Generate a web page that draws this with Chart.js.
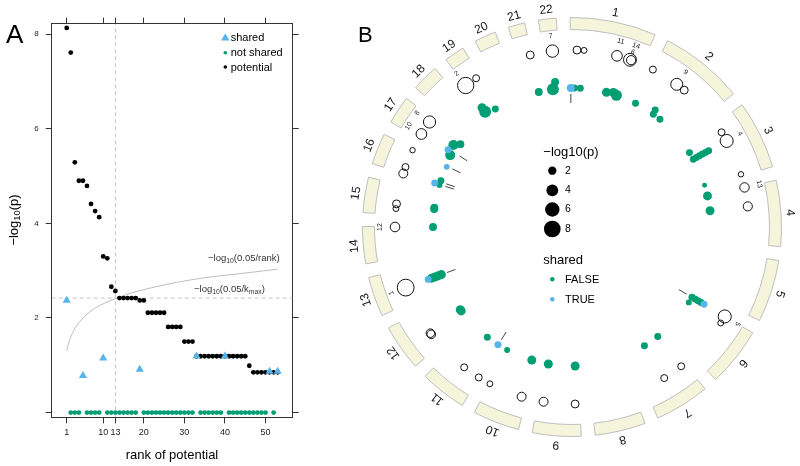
<!DOCTYPE html>
<html><head><meta charset="utf-8">
<script src="https://cdn.jsdelivr.net/npm/chart.js@4.4.1/dist/chart.umd.min.js"></script>
<style>
html,body{margin:0;padding:0;background:#fff;width:800px;height:466px;overflow:hidden;}
#wrap{position:relative;width:800px;height:466px;}
canvas{position:absolute;}
#cA{left:0;top:0;width:320px;height:466px;}
#cRing,#cB{left:337px;top:0;width:470px;height:466px;}
</style></head><body>
<div id="wrap">
<canvas id="cA" width="320" height="466"></canvas>
<canvas id="cRing" width="470" height="466"></canvas>
<canvas id="cB" width="470" height="466"></canvas>
</div>
<script>
// ---------------- Panel A data ----------------
const RANKS = [1,2,3,4,5,6,7,8,9,10,11,12,13,14,15,16,17,18,19,20,21,22,23,24,25,26,27,28,29,30,31,32,33,34,35,36,37,38,39,40,41,42,43,44,45,46,47,48,49,50,51,52,53];
const POTENTIAL_LOGP = [8.13,7.61,5.29,4.90,4.90,4.79,4.41,4.26,4.13,3.30,3.26,2.66,2.57,
  2.42,2.42,2.42,2.42,2.42,2.37,2.37,2.11,2.11,2.11,2.11,2.11,1.81,1.81,1.81,1.81,1.50,1.50,1.50,
  1.19,1.19,1.19,1.19,1.19,1.19,1.19,1.19,1.19,1.19,1.19,1.19,1.19,0.99,0.85,0.85,0.85,0.85,0.85,0.85,0.85];
const SHARED_RANKS = [1,5,10,19,33,40,51,53];
const SHARED_LOGP = [2.37,0.78,1.15,0.91,1.19,1.19,0.87,0.87];
const NOT_SHARED_RANKS = [2,3,4,6,7,8,9,11,12,13,14,15,16,17,18,20,21,22,23,24,25,26,27,28,29,30,31,32,34,35,36,37,38,39,41,42,43,44,45,46,47,48,49,50,52];
const NOT_SHARED_LOGP = [0,0,0,0,0,0,0,0,0,0,0,0,0,0,0,0,0,0,0,0,0,0,0,0,0,0,0,0,0,0,0,0,0,0,0,0,0,0,0,0,0,0,0,0,0];
const CURVE_RANK = [1,1.5,2,3,4,5,7,10,13,17,22,28,35,43,53];
const CURVE_LOGP = [1.30,1.48,1.60,1.78,1.90,2.00,2.15,2.30,2.41,2.53,2.64,2.75,2.85,2.93,3.03];
const K_MAX = 13;
const KMAX_LOGP = 2.42;
const X_TICKS = [1,10,13,20,30,40,50];
const Y_TICKS = [0,2,4,6,8];
const X_MIN = -2.7, X_MAX = 56.7, Y_MIN = -0.1, Y_MAX = 8.22;

// ---------------- Panel B data ----------------
const CHR_LABELS = ['1','2','3','4','5','6','7','8','9','10','11','12','13','14','15','16','17','18','19','20','21','22'];
const CHR_LEN = [249.3,243.2,198.0,191.2,180.9,171.1,159.1,146.4,141.2,135.5,135.0,133.9,115.2,107.3,102.5,90.4,81.2,78.1,59.1,63.0,48.1,51.3];
const GAP_MB = 40;
const RING_ROTATION = -0.5;
// potential loci (open circles)
const POT_CHR  = [21,22,1,1,1,1,1,2,2,2,3,3,3,4,4,6,6,7,7,9,9,10,10,11,11,12,12,13,14,15,15,16,16,16,17,17,19,19];
const POT_POS  = [42,30,22,46,159,205,209,0,95,127,35,69,192,0,65,0,26,14,84,16,123,18,134,2,62,45,50,52,106,21,37,0,23,85,17,66,1,44];
const POT_LOGP = [1.8,4.41,1.8,1.0,3.26,4.79,2.42,1.4,4.13,1.8,1.4,4.90,0.85,2.57,2.4,4.90,1.0,1.4,1.4,1.8,2.3,2.3,1.0,1.4,1.4,2.1,2.1,8.13,2.66,1.0,1.8,2.3,1.4,0.85,3.30,4.26,7.61,1.4];
const POT_LABEL= [null,7,null,null,11,6,14,null,9,null,null,4,null,13,null,5,null,null,null,null,null,null,null,null,null,null,null,1,12,null,null,null,null,null,10,8,2,null];
// association hits (filled points)
const HIT_CHR    = [21,22,22,1,1,1,1,1,1,2,2,2,2,3,3,3,3,3,3,3,3,4,4,6,6,6,6,6,6,7,7,9,9,10,10,11,11,12,12,13,13,13,13,13,14,15,15,16,16,16,16,17,17,17,17,19,19,19];
const HIT_POS    = [40,14,27,15,41,0,155,184,200,0,90,86,126,35,68,68,68,68,68,68,190,0,65,0,0,0,0,0,26,14,84,13,129,21,136,6,62,47,54,52,52,52,52,52,106,36,42,0,2,19,84,5,19,48,68,0,0,42];
const HIT_LOGP   = [1.8,4.1,1.8,1.4,1.4,1.8,2.3,2.3,3.5,1.4,1.4,1.4,1.4,1.4,1.4,1.4,1.4,1.4,1.4,1.4,0.7,2.3,2.3,1.4,1.4,1.4,1.4,1.4,1.0,1.4,1.4,2.3,2.3,2.3,1.0,1.4,1.4,2.3,2.3,2.3,2.3,2.3,2.3,1.4,1.8,1.8,1.8,1.0,1.4,1.4,1.0,2.9,1.4,2.9,1.8,4.1,2.3,1.4];
const HIT_LIFT   = [0,0,2,0,0,0,0,0.5,0,0,0,1.3,0,0,0,1,2,3,4,5,0,0,0,0,1,2,3,4,0,0,0,0,0,0,0,0,0,0,0,0,1,2,3,4,0,0,0,0,1.5,0,0,0.7,2,1.5,0,1.5,3,0.5];
const HIT_SHARED = [0,0,0,0,0,1,0,0,0,0,0,0,0,0,0,0,0,0,0,0,0,0,0,0,0,0,0,1,0,0,0,0,0,0,0,1,0,0,0,0,0,0,0,1,0,0,0,0,1,0,1,0,1,0,0,0,0,0];
// tick marks
const TICK_CHR = [1,6,11,13,16,16,16,17];
const TICK_POS = [0,0,5,52,2,14,87,23];

// ---------------- styles ----------------
const FONT = "'Liberation Sans', Arial, Helvetica, sans-serif";
Chart.defaults.font.family = FONT;
const GREEN = '#009E73', BLUE = '#56B4E9';

function drawRich(ctx, parts, x, y, size, align, color) {
  ctx.fillStyle = color || '#000';
  ctx.textBaseline = 'middle';
  ctx.textAlign = 'left';
  const ws = parts.map(([t, s]) => { ctx.font = (s ? size * 0.72 : size) + 'px ' + FONT; return ctx.measureText(t).width; });
  const tot = ws.reduce((a, b) => a + b, 0);
  let cx = align === 'center' ? x - tot / 2 : (align === 'right' ? x - tot : x);
  parts.forEach(([t, s], i) => {
    ctx.font = (s ? size * 0.72 : size) + 'px ' + FONT;
    ctx.fillText(t, cx, y + (s ? size * 0.3 : 0));
    cx += ws[i];
  });
}

// ---------------- Panel A chart ----------------
const panelAText = {
  id: 'panelAText',
  afterDraw(chart) {
    const ctx = chart.ctx;
    ctx.save();
    ctx.fillStyle = '#000';
    ctx.font = '26px ' + FONT;
    ctx.textBaseline = 'alphabetic';
    ctx.textAlign = 'left';
    ctx.fillText('A', 6, 43);
    ctx.save();
    ctx.translate(14, 220);
    ctx.rotate(-Math.PI / 2);
    drawRich(ctx, [['\u2212log', 0], ['10', 1], ['(p)', 0]], 0, 0, 13, 'center', '#000');
    ctx.restore();
    ctx.font = '13px ' + FONT;
    ctx.textAlign = 'center';
    ctx.textBaseline = 'middle';
    ctx.fillStyle = '#000';
    ctx.fillText('rank of potential', 172, 455);
    drawRich(ctx, [['\u2212log', 0], ['10', 1], ['(0.05/rank)', 0]], 208, 258, 9.5, 'left', '#333');
    drawRich(ctx, [['\u2212log', 0], ['10', 1], ['(0.05/k', 0], ['max', 1], [')', 0]], 194, 289, 9.5, 'left', '#333');
    const lx = 225.3;
    ctx.fillStyle = BLUE;
    ctx.beginPath();
    ctx.moveTo(lx, 33.5); ctx.lineTo(lx + 4.2, 40.5); ctx.lineTo(lx - 4.2, 40.5); ctx.closePath(); ctx.fill();
    ctx.fillStyle = GREEN;
    ctx.beginPath(); ctx.arc(lx, 52.7, 1.8, 0, Math.PI * 2); ctx.fill();
    ctx.fillStyle = '#000';
    ctx.beginPath(); ctx.arc(lx, 67, 1.8, 0, Math.PI * 2); ctx.fill();
    ctx.font = '11px ' + FONT;
    ctx.textAlign = 'left';
    ctx.textBaseline = 'middle';
    ctx.fillText('shared', 230.7, 38);
    ctx.fillText('not shared', 230.7, 53);
    ctx.fillText('potential', 230.7, 67.5);
    ctx.restore();
  }
};

const axisCommon = (pos, isX, labelled, size) => ({
  type: 'linear',
  position: pos,
  axis: isX ? 'x' : 'y',
  min: isX ? X_MIN : Y_MIN,
  max: isX ? X_MAX : Y_MAX,
  afterBuildTicks: s => { s.ticks = (isX ? X_TICKS : Y_TICKS).map(v => ({ value: v })); },
  ticks: {
    autoSkip: false, maxRotation: 0, minRotation: 0,
    color: '#222',
    font: { size: isX ? 9 : 8 },
    padding: isX ? 4 : 7,
    callback: v => (labelled ? (v === 0 && !isX ? '' : String(v)) : '')
  },
  grid: { drawOnChartArea: false, drawTicks: true, tickLength: 6, color: '#333', tickColor: '#333' },
  border: { display: true, color: '#333', width: 1 },
  afterFit: s => { if (isX) s.height = size; else s.width = size; }
});

new Chart(document.getElementById('cA'), {
  type: 'scatter',
  data: {
    datasets: [
      { label: 'shared', order: 0, data: SHARED_RANKS.map((r, i) => ({ x: r, y: SHARED_LOGP[i] })),
        pointStyle: 'triangle', pointRadius: 4.7, backgroundColor: BLUE, borderColor: BLUE, borderWidth: 0 },
      { label: 'potential', order: 1, data: RANKS.map((r, i) => ({ x: r, y: POTENTIAL_LOGP[i] })),
        pointRadius: 2.4, backgroundColor: '#000', borderWidth: 0 },
      { label: 'not shared', order: 2, data: NOT_SHARED_RANKS.map((r, i) => ({ x: r, y: NOT_SHARED_LOGP[i] })),
        pointRadius: 2.4, backgroundColor: GREEN, borderWidth: 0 },
      { label: 'threshold curve', type: 'line', order: 3, data: CURVE_RANK.map((r, i) => ({ x: r, y: CURVE_LOGP[i] })),
        borderColor: '#bdbdbd', borderWidth: 1, pointRadius: 0, cubicInterpolationMode: 'monotone', fill: false },
      { label: 'kmax', type: 'line', order: 4, data: [{ x: X_MIN, y: KMAX_LOGP }, { x: X_MAX, y: KMAX_LOGP }],
        borderColor: '#c4c4c4', borderDash: [4, 3], borderWidth: 1, pointRadius: 0, fill: false },
      { label: 'kvert', type: 'line', order: 5, data: [{ x: K_MAX, y: Y_MIN }, { x: K_MAX, y: Y_MAX }],
        borderColor: '#c4c4c4', borderDash: [4, 3], borderWidth: 1, pointRadius: 0, fill: false }
    ]
  },
  options: {
    responsive: false, animation: false, events: [],
    layout: { padding: 0 },
    plugins: { legend: { display: false }, tooltip: { enabled: false } },
    scales: {
      x: axisCommon('bottom', true, true, 48.7),
      x2: axisCommon('top', true, false, 23.7),
      y: axisCommon('left', false, true, 51.7),
      y2: axisCommon('right', false, false, 27.3)
    }
  },
  plugins: [panelAText]
});

// ---------------- Panel B ----------------
const R_POT = 177, R_HIT = 139, LIFT_STEP = 3.5, R_TICK0 = 124, R_TICK1 = 133;
const R_RANK_LABEL = 192, R_CHR_LABEL = 218.5, SIZE_K = 2.95, HALF = 210;
const LABEL_NUDGE = { 6: -7 };
const totalMb = CHR_LEN.reduce((a, b) => a + b, 0) + GAP_MB * CHR_LEN.length;
const DEG_PER_MB = 360 / totalMb;
const CHR_START = [];
{ let a = RING_ROTATION; CHR_LEN.forEach(L => { CHR_START.push(a); a += (L + GAP_MB) * DEG_PER_MB; }); }
function polar(chr, pos, r) {
  const t = (CHR_START[chr - 1] + pos * DEG_PER_MB) * Math.PI / 180;
  return { x: r * Math.sin(t), y: r * Math.cos(t), t };
}
const sizeOf = v => SIZE_K * Math.sqrt(v);
const PAD_B = { left: 25, right: 25, top: 17, bottom: 29 };

const ringData = [], ringBg = [], ringBorder = [], ringBw = [];
CHR_LEN.forEach(L => {
  ringData.push(L, GAP_MB);
  ringBg.push('#F5F5DC', 'rgba(0,0,0,0)');
  ringBorder.push('#BEBEBE', 'rgba(0,0,0,0)');
  ringBw.push(1, 0);
});
const chrLabelPlugin = {
  id: 'chrLabels',
  afterDatasetsDraw(chart) {
    const ctx = chart.ctx, meta = chart.getDatasetMeta(0);
    ctx.save();
    ctx.font = '12px ' + FONT;
    ctx.fillStyle = '#111';
    ctx.textAlign = 'center';
    ctx.textBaseline = 'middle';
    CHR_LABELS.forEach((lab, i) => {
      const arc = meta.data[2 * i];
      const mid = (arc.startAngle + arc.endAngle) / 2;
      ctx.save();
      ctx.translate(arc.x + R_CHR_LABEL * Math.cos(mid), arc.y + R_CHR_LABEL * Math.sin(mid));
      ctx.rotate(mid + Math.PI / 2);
      ctx.fillText(lab, 0, 0);
      ctx.restore();
    });
    ctx.restore();
  }
};
new Chart(document.getElementById('cRing'), {
  type: 'doughnut',
  data: { labels: ringData.map((_, i) => i), datasets: [{ data: ringData, backgroundColor: ringBg, borderColor: ringBorder, borderWidth: ringBw }] },
  options: {
    responsive: false, animation: false, events: [],
    rotation: RING_ROTATION, circumference: 360, cutout: 197.5,
    layout: { padding: PAD_B },
    plugins: { legend: { display: false }, tooltip: { enabled: false } }
  },
  plugins: [chrLabelPlugin]
});

const potData = POT_CHR.map((c, i) => { const p = polar(c, POT_POS[i], R_POT); return { x: p.x, y: p.y, r: sizeOf(POT_LOGP[i]) }; });
const hitFalse = [], hitTrue = [];
HIT_CHR.forEach((c, i) => {
  const p = polar(c, HIT_POS[i], R_HIT + HIT_LIFT[i] * LIFT_STEP);
  (HIT_SHARED[i] ? hitTrue : hitFalse).push({ x: p.x, y: p.y, r: sizeOf(HIT_LOGP[i]) });
});
const tickData = [];
TICK_CHR.forEach((c, i) => {
  const a = polar(c, TICK_POS[i], R_TICK0), b = polar(c, TICK_POS[i], R_TICK1);
  tickData.push({ x: a.x, y: a.y }, { x: b.x, y: b.y }, { x: null, y: null });
});

const OX = 337, OY = 0;
const panelBText = {
  id: 'panelBText',
  afterDatasetsDraw(chart) {
    const ctx = chart.ctx, xs = chart.scales.x, ys = chart.scales.y;
    ctx.save();
    ctx.font = '7px ' + FONT;
    ctx.fillStyle = '#222';
    ctx.textAlign = 'center';
    ctx.textBaseline = 'middle';
    POT_LABEL.forEach((lab, i) => {
      if (lab === null) return;
      const p = polar(POT_CHR[i], POT_POS[i], R_RANK_LABEL + (LABEL_NUDGE[lab] || 0));
      ctx.save();
      ctx.translate(xs.getPixelForValue(p.x), ys.getPixelForValue(p.y));
      ctx.rotate(p.t);
      ctx.fillText(String(lab), 0, 0);
      ctx.restore();
    });
    ctx.fillStyle = '#000';
    ctx.font = '22px ' + FONT;
    ctx.textAlign = 'left';
    ctx.textBaseline = 'alphabetic';
    ctx.fillText('B', 358 - OX, 42 - OY);
    ctx.textBaseline = 'middle';
    ctx.font = '13px ' + FONT;
    ctx.fillText('\u2212log10(p)', 543.3 - OX, 152 - OY);
    const sizes = [2, 4, 6, 8], ys2 = [170.7, 190.3, 209.5, 229];
    sizes.forEach((v, i) => {
      ctx.fillStyle = '#000';
      ctx.beginPath(); ctx.arc(552.3 - OX, ys2[i] - OY, sizeOf(v), 0, Math.PI * 2); ctx.fill();
      ctx.font = '10.5px ' + FONT;
      ctx.fillText(String(v), 565 - OX, ys2[i] - OY);
    });
    ctx.font = '13px ' + FONT;
    ctx.fillText('shared', 543.3 - OX, 260 - OY);
    ctx.fillStyle = GREEN;
    ctx.beginPath(); ctx.arc(552.3 - OX, 279.3 - OY, 2.2, 0, Math.PI * 2); ctx.fill();
    ctx.fillStyle = BLUE;
    ctx.beginPath(); ctx.arc(552.3 - OX, 299.3 - OY, 2.2, 0, Math.PI * 2); ctx.fill();
    ctx.fillStyle = '#000';
    ctx.font = '11px ' + FONT;
    ctx.fillText('FALSE', 565 - OX, 279.5 - OY);
    ctx.fillText('TRUE', 565 - OX, 299.5 - OY);
    ctx.restore();
  }
};

new Chart(document.getElementById('cB'), {
  type: 'bubble',
  data: {
    datasets: [
      { label: 'potential', order: 3, data: potData, backgroundColor: 'rgba(0,0,0,0)', borderColor: '#111', borderWidth: 1, clip: false },
      { label: 'ticks', type: 'line', order: 2, data: tickData, borderColor: '#444', borderWidth: 1, pointRadius: 0, spanGaps: false, fill: false, clip: false },
      { label: 'FALSE', order: 1, data: hitFalse, backgroundColor: GREEN, borderWidth: 0, clip: false },
      { label: 'TRUE', order: 0, data: hitTrue, backgroundColor: BLUE, borderWidth: 0, clip: false }
    ]
  },
  options: {
    responsive: false, animation: false, events: [],
    layout: { padding: PAD_B },
    plugins: { legend: { display: false }, tooltip: { enabled: false } },
    scales: {
      x: { type: 'linear', min: -HALF, max: HALF, display: false },
      y: { type: 'linear', min: -HALF, max: HALF, display: false }
    }
  },
  plugins: [panelBText]
});
</script>
</body></html>
